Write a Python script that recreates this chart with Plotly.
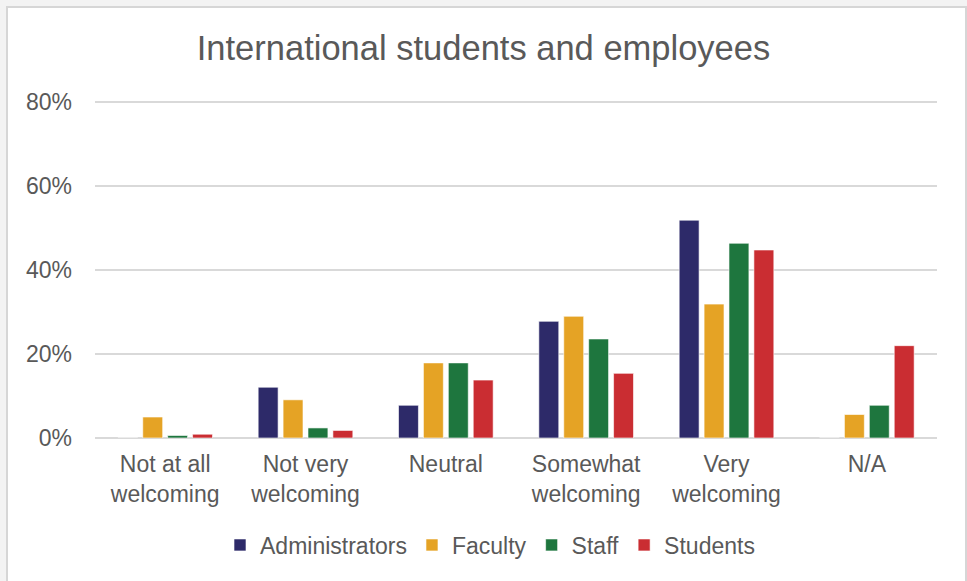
import plotly.graph_objects as go

categories = ["Not at all<br>welcoming", "Not very<br>welcoming", "Neutral",
              "Somewhat<br>welcoming", "Very<br>welcoming", "N/A"]
administrators = [0.0, 12.1, 7.8, 27.8, 51.9, 0.0]
faculty = [5.0, 9.1, 17.9, 29.0, 31.9, 5.6]
staff = [0.6, 2.4, 17.9, 23.6, 46.4, 7.8]
students = [0.9, 1.8, 13.8, 15.4, 44.8, 22.0]
series_names = ["Administrators", "Faculty", "Staff", "Students"]
colors = ["#2D2A69", "#E5A325", "#1E763E", "#CA2D32"]
y_ticks = [0, 20, 40, 60, 80]
y_tick_labels = ["0%", "20%", "40%", "60%", "80%"]

fig = go.Figure()
for name, vals, c in zip(series_names, [administrators, faculty, staff, students], colors):
    fig.add_trace(go.Bar(
        x=categories, y=vals, name=name,
        marker=dict(color=c, line=dict(color="rgba(255,255,255,0.6)", width=1)),
    ))

FONT = "Liberation Sans, Arial, sans-serif"
GREY = "#595959"

W, H = 967, 581
L, R, T, B = 95, 30, 101, 143
pw, ph = W - L - R, H - T - B

def px_x(p):
    return (p - L) / pw

def px_y(p):
    return (H - B - p) / ph

fig.update_layout(
    width=W, height=H,
    margin=dict(l=L, r=R, t=T, b=B, autoexpand=False),
    paper_bgcolor="#f3f3f3",
    plot_bgcolor="white",
    barmode="group",
    bargap=0.29,
    bargroupgap=0.2,
    font=dict(family=FONT, color=GREY, size=23),
    title=dict(text="International students and employees", x=0.5, xanchor="center",
               y=1 - 48 / H, yanchor="middle",
               font=dict(family=FONT, size=34.5, color=GREY)),
    legend=dict(orientation="h", x=px_x(490), xanchor="center", y=px_y(545), yanchor="middle",
                font=dict(family=FONT, size=23, color=GREY), bgcolor="rgba(0,0,0,0)",
                itemwidth=30, traceorder="normal"),
    xaxis=dict(showgrid=False, showline=False, ticks="", tickfont=dict(size=23, color=GREY),
               automargin=False, ticklabelstandoff=10),
    yaxis=dict(range=[0, 80.3], tickvals=y_ticks, ticktext=y_tick_labels,
               showgrid=True, gridcolor="#d9d9d9", gridwidth=1.5,
               zeroline=True, zerolinecolor="#d9d9d9", zerolinewidth=1.5,
               showline=False, ticks="", ticklabelstandoff=22, automargin=False,
               tickfont=dict(size=23, color=GREY)),
    shapes=[dict(type="rect", xref="paper", yref="paper",
                 x0=px_x(7), x1=px_x(966), y0=px_y(600), y1=px_y(7),
                 fillcolor="white", line=dict(color="#d6d6d6", width=2), layer="below")],
)

fig.write_html("out.html", config={"displayModeBar": False},
               post_script="document.body.style.margin='0';document.body.style.overflow='hidden';")
